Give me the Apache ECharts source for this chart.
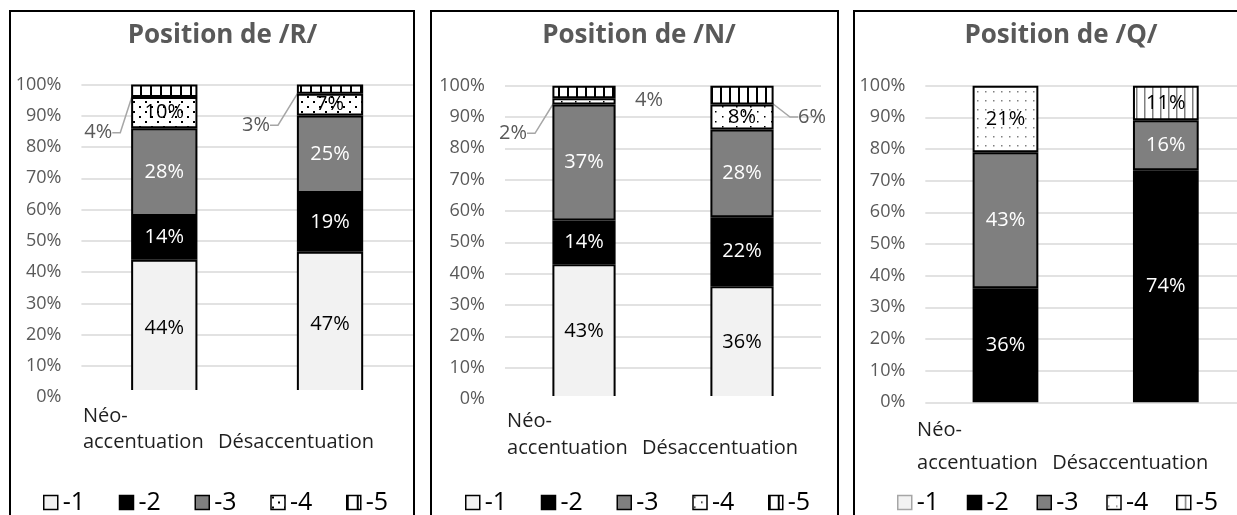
<!DOCTYPE html>
<html><head><meta charset="utf-8">
<script src="https://cdn.jsdelivr.net/npm/echarts@6/dist/echarts.min.js"></script>
<style>html,body{margin:0;padding:0;background:#fff}#c{width:1237px;height:515px}</style>
</head><body><div id="c"></div>
<script>
// ---------------- DATA ----------------
const categories = ['Néo-accentuation', 'Désaccentuation'];
const seriesNames = ['-1', '-2', '-3', '-4', '-5'];
const panelTitles = ['Position de /R/', 'Position de /N/', 'Position de /Q/'];
const yTickValues = [0, 10, 20, 30, 40, 50, 60, 70, 80, 90, 100];

// percentages per series, [Néo-accentuation, Désaccentuation]
const R_m1 = [44, 47];
const R_m2 = [14, 19];
const R_m3 = [28, 25];
const R_m4 = [10, 7];
const R_m5 = [4, 3];

const N_m1 = [43, 36];
const N_m2 = [14, 22];
const N_m3 = [37, 28];
const N_m4 = [2, 8];
const N_m5 = [4, 6];

const Q_m1 = [0, 0];
const Q_m2 = [36, 74];
const Q_m3 = [43, 16];
const Q_m4 = [21, 0];
const Q_m5 = [0, 11];

const panelValues = [
  [R_m1, R_m2, R_m3, R_m4, R_m5],
  [N_m1, N_m2, N_m3, N_m4, N_m5],
  [Q_m1, Q_m2, Q_m3, Q_m4, Q_m5]
];

// ---------------- LAYOUT / STYLE ----------------
const FONT = '"Open Sans", "Noto Sans", sans-serif';
const LEGEND_FS = 25;
const layout = [
  { grid: { left: 81.4, top: 84.5, width: 331.5, height: 312.8 }, box: { x: 10, w: 404 }, titleX: 217.5,
    barWidth: '40%', legendLeft: 43, legendStep: 75, clipY: 390, catMargin: 6, catLH: 26, catPad: [42, 68],
    dot: { w: 12, h: 10, size: 2, color: '#000', stagger: true }, stripe: { step: 9.5, lw: 2, color: '#000' }, m1Border: '#000' },
  { grid: { left: 505, top: 85.7, width: 316, height: 313.3 }, box: { x: 431, w: 407 }, titleX: 634,
    barWidth: '40%', legendLeft: 465, legendStep: 75, clipY: 396, catMargin: 9, catLH: 27, catPad: [33, 44],
    dot: { w: 14, h: 10, size: 1.5, color: '#000', stagger: true }, stripe: { step: 9, lw: 2, color: '#000' }, m1Border: '#000' },
  { grid: { left: 925.3, top: 85.7, width: 320.7, height: 316.6 }, box: { x: 854, w: 500 }, titleX: 1056,
    barWidth: '41%', legendLeft: 897, legendStep: 69, clipY: null, catMargin: 11, catLH: 33, catPad: [56, 71],
    dot: { w: 8, h: 9, size: 1.5, color: '#808080', stagger: false }, stripe: { step: 8, lw: 1.5, color: '#808080' }, m1Border: '#a6a6a6' }
];
// outside labels: [panel, category, series] -> offset from default position
const outsideLabels = {
  '0-0-4': { dx: -66, dy: 42, line: true },
  '0-1-4': { dx: -74, dy: 36, line: true },
  '1-0-3': { dx: -71, dy: 32, line: true },
  '1-0-4': { dx: 65, dy: 8, line: false },
  '1-1-4': { dx: 70, dy: 22, line: true }
};
const fills = ['#f2f2f2', '#000000', '#7f7f7f', null, null];
const labelColors = ['#000', '#fff', '#fff', '#000', '#000'];

function dotPattern(o) {
  const c = document.createElement('canvas'); c.width = o.w; c.height = o.h;
  const g = c.getContext('2d');
  g.fillStyle = '#fff'; g.fillRect(0, 0, o.w, o.h);
  g.fillStyle = o.color;
  g.fillRect(1, 1, o.size, o.size);
  if (o.stagger) g.fillRect(o.w / 2 + 1, o.h / 2 + 1, o.size, o.size);
  return { image: c, repeat: 'repeat' };
}
function stripePattern(o) {
  const s = Math.round(o.step);
  const c = document.createElement('canvas'); c.width = s; c.height = 4;
  const g = c.getContext('2d');
  g.fillStyle = '#fff'; g.fillRect(0, 0, s, 4);
  g.fillStyle = o.color; g.fillRect(0, 0, o.lw, 4);
  return { image: c, repeat: 'repeat' };
}
const measureCtx = document.createElement('canvas').getContext('2d');
measureCtx.font = LEGEND_FS + 'px ' + FONT;
const legendTextW = Math.max(...seriesNames.map(n => measureCtx.measureText(n).width));

const grids = [], xAxes = [], yAxes = [], series = [], legends = [], titles = [], graphics = [];

layout.forEach((L, p) => {
  const vals = panelValues[p];
  const sums = categories.map((_, i) => vals.reduce((a, s) => a + s[i], 0));
  const colorOf = [fills[0], fills[1], fills[2], dotPattern(L.dot), stripePattern(L.stripe)];

  grids.push(Object.assign({ containLabel: false, outerBoundsMode: 'none' }, L.grid));
  xAxes.push({
    type: 'category', gridIndex: p, data: categories.map((c, i) => ({
      value: c, textStyle: { padding: [0, L.catPad[i], 0, 0] }
    })),
    axisLine: { show: false }, axisTick: { show: false },
    axisLabel: {
      interval: 0, hideOverlap: false, margin: L.catMargin, color: '#1f1f1f', fontFamily: FONT, fontSize: 20, lineHeight: L.catLH,
      align: 'center', verticalAlign: 'top',
      formatter: v => {
        const parts = v.split(/(?<=-)/);
        if (parts.length < 2) parts.unshift(' ');
        return parts.map(t => '{l|' + t + '}').join('\n');
      },
      rich: { l: { align: 'left', fontFamily: FONT, fontSize: 20, lineHeight: L.catLH, color: '#1f1f1f' } }
    }
  });
  yAxes.push({
    type: 'value', gridIndex: p, min: yTickValues[0], max: yTickValues[yTickValues.length - 1],
    interval: yTickValues[1] - yTickValues[0],
    axisLine: { show: false }, axisTick: { show: false },
    axisLabel: { formatter: '{value}%', color: '#595959', fontFamily: FONT, fontSize: 18, margin: 20 },
    splitLine: { lineStyle: { color: '#d9d9d9', width: 1.5 } }
  });

  seriesNames.forEach((name, s) => {
    const data = vals[s].map((v, i) => {
      if (!v) return '-';
      const key = p + '-' + i + '-' + s;
      const item = { value: v / sums[i] * 100, raw: v };
      if (outsideLabels[key]) {
        item.label = { color: '#595959' };
        item.labelLine = { show: outsideLabels[key].line };
      }
      return item;
    });
    series.push({
      type: 'bar', name, stack: 'p' + p, xAxisIndex: p, yAxisIndex: p, barWidth: L.barWidth,
      itemStyle: { color: colorOf[s], borderColor: '#000', borderWidth: 2 },
      label: {
        show: true, position: 'inside', color: labelColors[s], fontFamily: FONT, fontSize: 20,
        formatter: prm => prm.data.raw + '%'
      },
      labelLine: { show: false, lineStyle: { color: '#a6a6a6', width: 1.5 }, length2: 8 },
      labelLayout: prm => {
        const o = outsideLabels[p + '-' + prm.dataIndex + '-' + s];
        return o ? { dx: o.dx, dy: o.dy } : {};
      },
      emphasis: { disabled: true },
      data
    });
  });

  legends.push({
    left: L.legendLeft, top: 490, orient: 'horizontal', itemWidth: 14, itemHeight: 14,
    itemGap: L.legendStep - 14 - 5 - legendTextW,
    selectedMode: false, icon: 'rect', padding: 0,
    data: seriesNames.map((n, s) => ({
      name: n, itemStyle: { color: colorOf[s], borderColor: s === 0 ? L.m1Border : '#000', borderWidth: 1.5 }
    })),
    textStyle: { color: '#000', fontFamily: FONT, fontSize: LEGEND_FS }
  });

  titles.push({
    text: panelTitles[p], left: L.titleX, top: 18, textAlign: 'center',
    textStyle: { color: '#595959', fontFamily: FONT, fontSize: 26, fontWeight: 'bold' }
  });

  graphics.push({
    type: 'rect', z: 200, silent: true,
    shape: { x: L.box.x, y: 11, width: L.box.w, height: 600 },
    style: { fill: 'none', stroke: '#000', lineWidth: 2 }
  });
  if (L.clipY) {
    graphics.push({
      type: 'rect', z: 150, silent: true,
      shape: { x: L.grid.left - 3, y: L.clipY, width: L.grid.width + 3, height: L.grid.top + L.grid.height + 3 - L.clipY },
      style: { fill: '#fff' }
    });
  }
});

const chart = echarts.init(document.getElementById('c'), null, { renderer: 'canvas' });
chart.setOption({
  animation: false,
  backgroundColor: '#fff',
  title: titles, grid: grids, xAxis: xAxes, yAxis: yAxes, legend: legends,
  series, graphic: graphics
});
</script></body></html>
